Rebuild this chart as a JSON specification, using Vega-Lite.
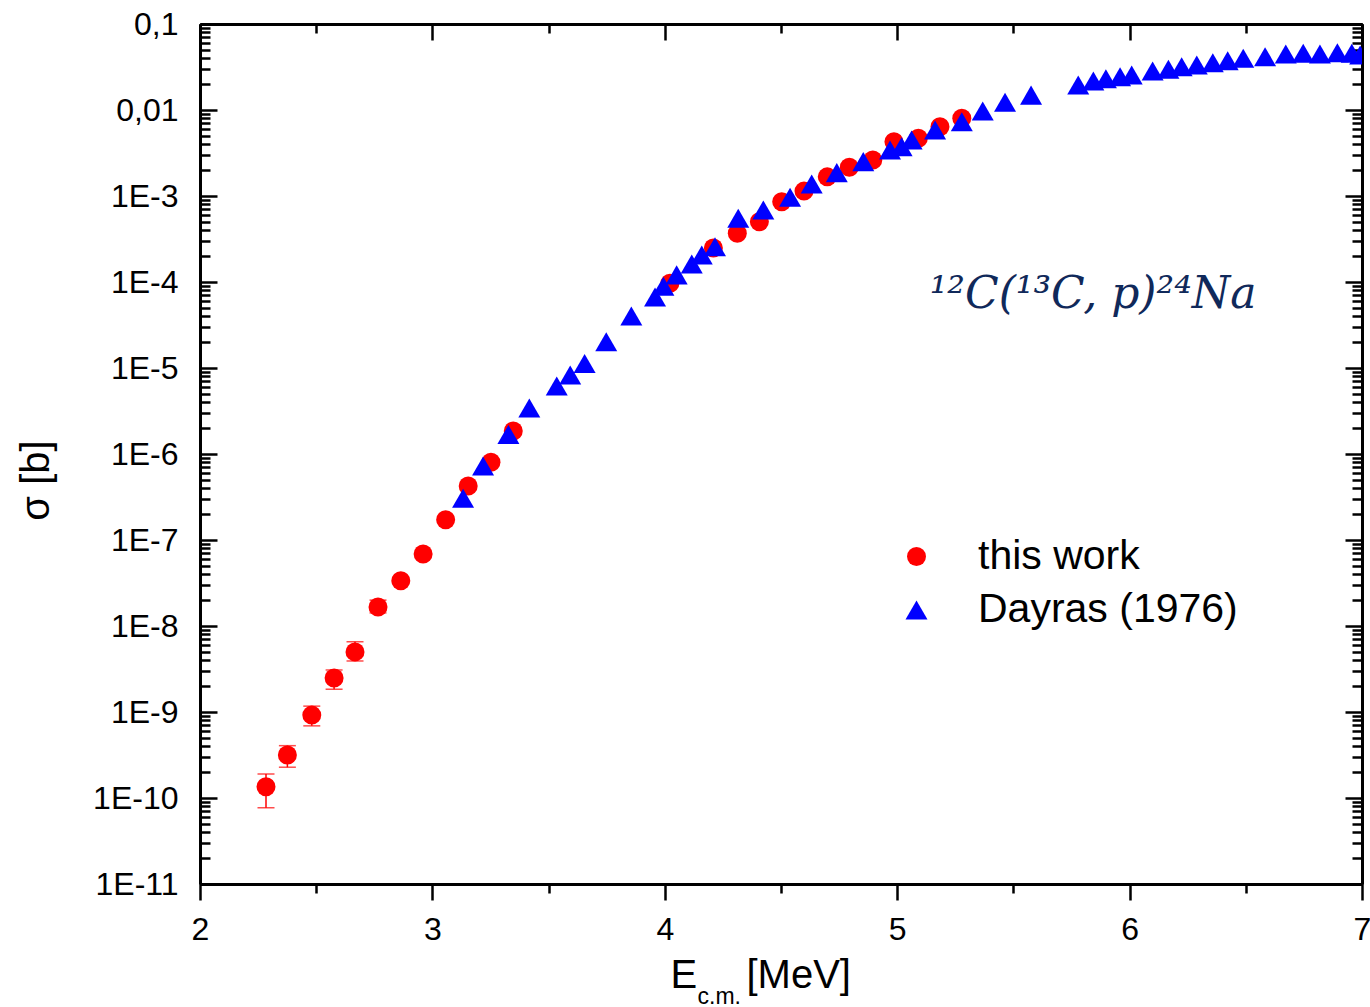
{
  "$schema": "https://vega.github.io/schema/vega-lite/v6.json",
  "width": 1162,
  "height": 860,
  "autosize": {"type": "none"},
  "padding": {"left": 200, "top": 24, "right": 8, "bottom": 123},
  "background": "white",
  "config": {
    "view": {"stroke": null},
    "font": "Liberation Sans",
    "axis": {"grid": false, "domainColor": "black", "domainWidth": 3, "tickColor": "black", "tickWidth": 2.5, "labelColor": "black", "titleColor": "black", "titleFontWeight": "normal", "titleFont": "Liberation Sans", "labelFont": "Liberation Sans"}
  },
  "datasets": {
    "pts": [
      {"E": 2.284, "s": 1.35e-10, "series": "this work", "lo": 7.7e-11, "hi": 1.9e-10},
      {"E": 2.376, "s": 3.16e-10, "series": "this work", "lo": 2.28e-10, "hi": 4.06e-10},
      {"E": 2.481, "s": 9.2e-10, "series": "this work", "lo": 6.9e-10, "hi": 1.17e-9},
      {"E": 2.577, "s": 2.48e-9, "series": "this work", "lo": 1.84e-9, "hi": 3.08e-9},
      {"E": 2.667, "s": 5.0e-9, "series": "this work", "lo": 3.92e-9, "hi": 6.56e-9},
      {"E": 2.766, "s": 1.66e-8, "series": "this work", "lo": 1.42e-8, "hi": 2.0e-8},
      {"E": 2.864, "s": 3.36e-8, "series": "this work"},
      {"E": 2.960, "s": 6.87e-8, "series": "this work"},
      {"E": 3.057, "s": 1.72e-7, "series": "this work"},
      {"E": 3.154, "s": 4.25e-7, "series": "this work"},
      {"E": 3.252, "s": 8.0e-7, "series": "this work"},
      {"E": 3.348, "s": 1.85e-6, "series": "this work"},
      {"E": 4.022, "s": 9.66e-5, "series": "this work"},
      {"E": 4.209, "s": 2.48e-4, "series": "this work"},
      {"E": 4.312, "s": 3.68e-4, "series": "this work"},
      {"E": 4.407, "s": 5.02e-4, "series": "this work"},
      {"E": 4.503, "s": 8.59e-4, "series": "this work"},
      {"E": 4.599, "s": 1.14e-3, "series": "this work"},
      {"E": 4.699, "s": 1.67e-3, "series": "this work"},
      {"E": 4.794, "s": 2.16e-3, "series": "this work"},
      {"E": 4.895, "s": 2.62e-3, "series": "this work"},
      {"E": 4.986, "s": 4.27e-3, "series": "this work"},
      {"E": 5.091, "s": 4.69e-3, "series": "this work"},
      {"E": 5.184, "s": 6.40e-3, "series": "this work"},
      {"E": 5.278, "s": 8.0e-3, "series": "this work"},
      {"E": 3.132, "s": 3.06e-7, "series": "Dayras (1976)"},
      {"E": 3.218, "s": 7.24e-7, "series": "Dayras (1976)"},
      {"E": 3.327, "s": 1.69e-6, "series": "Dayras (1976)"},
      {"E": 3.417, "s": 3.43e-6, "series": "Dayras (1976)"},
      {"E": 3.535, "s": 6.18e-6, "series": "Dayras (1976)"},
      {"E": 3.593, "s": 8.30e-6, "series": "Dayras (1976)"},
      {"E": 3.655, "s": 1.13e-5, "series": "Dayras (1976)"},
      {"E": 3.748, "s": 2.02e-5, "series": "Dayras (1976)"},
      {"E": 3.856, "s": 4.03e-5, "series": "Dayras (1976)"},
      {"E": 3.958, "s": 6.70e-5, "series": "Dayras (1976)"},
      {"E": 3.994, "s": 8.91e-5, "series": "Dayras (1976)"},
      {"E": 4.051, "s": 1.21e-4, "series": "Dayras (1976)"},
      {"E": 4.116, "s": 1.62e-4, "series": "Dayras (1976)"},
      {"E": 4.159, "s": 2.06e-4, "series": "Dayras (1976)"},
      {"E": 4.216, "s": 2.57e-4, "series": "Dayras (1976)"},
      {"E": 4.316, "s": 5.51e-4, "series": "Dayras (1976)"},
      {"E": 4.424, "s": 6.87e-4, "series": "Dayras (1976)"},
      {"E": 4.539, "s": 9.66e-4, "series": "Dayras (1976)"},
      {"E": 4.632, "s": 1.38e-3, "series": "Dayras (1976)"},
      {"E": 4.740, "s": 1.87e-3, "series": "Dayras (1976)"},
      {"E": 4.854, "s": 2.51e-3, "series": "Dayras (1976)"},
      {"E": 4.969, "s": 3.43e-3, "series": "Dayras (1976)"},
      {"E": 5.019, "s": 3.74e-3, "series": "Dayras (1976)"},
      {"E": 5.062, "s": 4.48e-3, "series": "Dayras (1976)"},
      {"E": 5.163, "s": 5.85e-3, "series": "Dayras (1976)"},
      {"E": 5.278, "s": 7.31e-3, "series": "Dayras (1976)"},
      {"E": 5.368, "s": 9.73e-3, "series": "Dayras (1976)"},
      {"E": 5.464, "s": 1.23e-2, "series": "Dayras (1976)"},
      {"E": 5.576, "s": 1.49e-2, "series": "Dayras (1976)"},
      {"E": 5.779, "s": 1.95e-2, "series": "Dayras (1976)"},
      {"E": 5.844, "s": 2.17e-2, "series": "Dayras (1976)"},
      {"E": 5.898, "s": 2.31e-2, "series": "Dayras (1976)"},
      {"E": 5.959, "s": 2.44e-2, "series": "Dayras (1976)"},
      {"E": 6.009, "s": 2.55e-2, "series": "Dayras (1976)"},
      {"E": 6.099, "s": 2.84e-2, "series": "Dayras (1976)"},
      {"E": 6.167, "s": 2.97e-2, "series": "Dayras (1976)"},
      {"E": 6.224, "s": 3.19e-2, "series": "Dayras (1976)"},
      {"E": 6.289, "s": 3.33e-2, "series": "Dayras (1976)"},
      {"E": 6.358, "s": 3.55e-2, "series": "Dayras (1976)"},
      {"E": 6.422, "s": 3.74e-2, "series": "Dayras (1976)"},
      {"E": 6.489, "s": 3.99e-2, "series": "Dayras (1976)"},
      {"E": 6.583, "s": 4.17e-2, "series": "Dayras (1976)"},
      {"E": 6.672, "s": 4.48e-2, "series": "Dayras (1976)"},
      {"E": 6.747, "s": 4.56e-2, "series": "Dayras (1976)"},
      {"E": 6.819, "s": 4.48e-2, "series": "Dayras (1976)"},
      {"E": 6.894, "s": 4.63e-2, "series": "Dayras (1976)"},
      {"E": 6.956, "s": 4.56e-2, "series": "Dayras (1976)"},
      {"E": 6.992, "s": 4.37e-2, "series": "Dayras (1976)"}
    ],
    "note": [
      {"E": 5.843, "s": 5.0e-5, "label": "¹²C(¹³C, p)²⁴Na"}
    ]
  },
  "resolve": {"axis": {"x": "independent", "y": "independent"}},
  "layer": [
    {
      "data": {"name": "pts"},
      "transform": [{"filter": "isValid(datum.lo)"}],
      "mark": {"type": "rule", "color": "#ff0000", "strokeWidth": 1.5},
      "encoding": {
        "x": {"field": "E", "type": "quantitative", "scale": {"domain": [2, 7], "nice": false, "zero": false},
          "axis": {"orient": "bottom", "values": [2.5, 3.5, 4.5, 5.5, 6.5], "tickSize": 9, "labels": false, "domain": true,
            "title": "c.m.", "titleFontSize": 23, "titleAlign": "left", "titleX": 497, "titleY": 119, "titleBaseline": "alphabetic"}},
        "y": {"field": "lo", "type": "quantitative", "scale": {"type": "log", "domain": [1e-11, 0.1], "nice": false},
          "axis": {"orient": "left", "tickSize": -10, "labels": false, "title": null,
            "values": [2e-11,3e-11,4e-11,5e-11,6e-11,7e-11,8e-11,9e-11,2e-10,3e-10,4e-10,5e-10,6e-10,7e-10,8e-10,9e-10,2e-9,3e-9,4e-9,5e-9,6e-9,7e-9,8e-9,9e-9,2e-8,3e-8,4e-8,5e-8,6e-8,7e-8,8e-8,9e-8,2e-7,3e-7,4e-7,5e-7,6e-7,7e-7,8e-7,9e-7,2e-6,3e-6,4e-6,5e-6,6e-6,7e-6,8e-6,9e-6,2e-5,3e-5,4e-5,5e-5,6e-5,7e-5,8e-5,9e-5,2e-4,3e-4,4e-4,5e-4,6e-4,7e-4,8e-4,9e-4,2e-3,3e-3,4e-3,5e-3,6e-3,7e-3,8e-3,9e-3,2e-2,3e-2,4e-2,5e-2,6e-2,7e-2,8e-2,9e-2]}},
        "y2": {"field": "hi"}
      }
    },
    {
      "data": {"name": "pts"},
      "transform": [{"filter": "isValid(datum.lo)"}, {"fold": ["lo", "hi"], "as": ["end", "v"]}],
      "mark": {"type": "tick", "color": "#ff0000", "orient": "horizontal", "size": 17, "thickness": 1.5},
      "encoding": {
        "x": {"field": "E", "type": "quantitative", "scale": {"domain": [2, 7], "nice": false, "zero": false},
          "axis": {"orient": "top", "values": [2, 3, 4, 5, 6, 7], "tickSize": -16, "labels": false, "title": null}},
        "y": {"field": "v", "type": "quantitative", "scale": {"type": "log", "domain": [1e-11, 0.1], "nice": false},
          "axis": {"orient": "right", "values": [1e-11,1e-10,1e-9,1e-8,1e-7,1e-6,1e-5,1e-4,1e-3,1e-2,1e-1], "tickSize": -17, "labels": false, "title": null}}
      }
    },
    {
      "data": {"name": "pts"},
      "mark": {"type": "point", "filled": true, "opacity": 1, "strokeWidth": 0, "clip": true},
      "encoding": {
        "x": {"field": "E", "type": "quantitative", "scale": {"domain": [2, 7], "nice": false, "zero": false},
          "axis": {"orient": "bottom", "values": [2, 3, 4, 5, 6, 7], "tickSize": 16, "labelFontSize": 32, "labelPadding": 14, "labelFlush": false, "labelOverlap": false, "format": "d",
            "title": "E", "titleFontSize": 40, "titleAlign": "left", "titleX": 470, "titleY": 103, "titleBaseline": "alphabetic"}},
        "y": {"field": "s", "type": "quantitative", "scale": {"type": "log", "domain": [1e-11, 0.1], "nice": false},
          "axis": {"orient": "left", "values": [1e-11,1e-10,1e-9,1e-8,1e-7,1e-6,1e-5,1e-4,1e-3,1e-2,1e-1], "tickSize": -17, "labelFontSize": 32, "labelPadding": 39, "labelOverlap": false, "labelFlush": false,
            "labelExpr": "datum.value > 0.05 ? '0,1' : datum.value > 0.005 ? '0,01' : '1E' + round(log(datum.value)/LN10)",
            "title": "σ [b]", "titleFontSize": 40, "titleAngle": 270, "titleX": -152, "titleY": 456, "titleAlign": "center", "titleBaseline": "alphabetic"}},
        "color": {"field": "series", "type": "nominal", "scale": {"domain": ["this work", "Dayras (1976)"], "range": ["#ff0000", "#0000ff"]},
          "legend": {"title": null, "orient": "none", "legendX": 696, "legendY": 512, "labelFontSize": 41, "labelFont": "Liberation Sans", "labelColor": "black", "labelOffset": 41, "labelLimit": 0, "rowPadding": 11.5, "padding": 0, "symbolStrokeWidth": 0, "symbolOpacity": 1}},
        "shape": {"field": "series", "type": "nominal", "scale": {"domain": ["this work", "Dayras (1976)"], "range": ["circle", "triangle-up"]}},
        "size": {"field": "series", "type": "nominal", "scale": {"domain": ["this work", "Dayras (1976)"], "range": [361, 484]}}
      }
    },
    {
      "data": {"name": "note"},
      "mark": {"type": "text", "font": "DejaVu Serif", "fontStyle": "italic", "fontSize": 44, "color": "#10295a", "align": "center", "baseline": "alphabetic"},
      "encoding": {
        "x": {"field": "E", "type": "quantitative", "scale": {"domain": [2, 7], "nice": false, "zero": false},
          "axis": {"orient": "top", "values": [2.5, 3.5, 4.5, 5.5, 6.5], "tickSize": -9, "labels": false,
            "title": "[MeV]", "titleFontSize": 40, "titleAlign": "left", "titleX": 546, "titleY": 963, "titleBaseline": "alphabetic"}},
        "y": {"field": "s", "type": "quantitative", "scale": {"type": "log", "domain": [1e-11, 0.1], "nice": false},
          "axis": {"orient": "right", "tickSize": -10, "labels": false, "title": null,
            "values": [2e-11,3e-11,4e-11,5e-11,6e-11,7e-11,8e-11,9e-11,2e-10,3e-10,4e-10,5e-10,6e-10,7e-10,8e-10,9e-10,2e-9,3e-9,4e-9,5e-9,6e-9,7e-9,8e-9,9e-9,2e-8,3e-8,4e-8,5e-8,6e-8,7e-8,8e-8,9e-8,2e-7,3e-7,4e-7,5e-7,6e-7,7e-7,8e-7,9e-7,2e-6,3e-6,4e-6,5e-6,6e-6,7e-6,8e-6,9e-6,2e-5,3e-5,4e-5,5e-5,6e-5,7e-5,8e-5,9e-5,2e-4,3e-4,4e-4,5e-4,6e-4,7e-4,8e-4,9e-4,2e-3,3e-3,4e-3,5e-3,6e-3,7e-3,8e-3,9e-3,2e-2,3e-2,4e-2,5e-2,6e-2,7e-2,8e-2,9e-2]}},
        "text": {"field": "label"}
      }
    }
  ]
}
